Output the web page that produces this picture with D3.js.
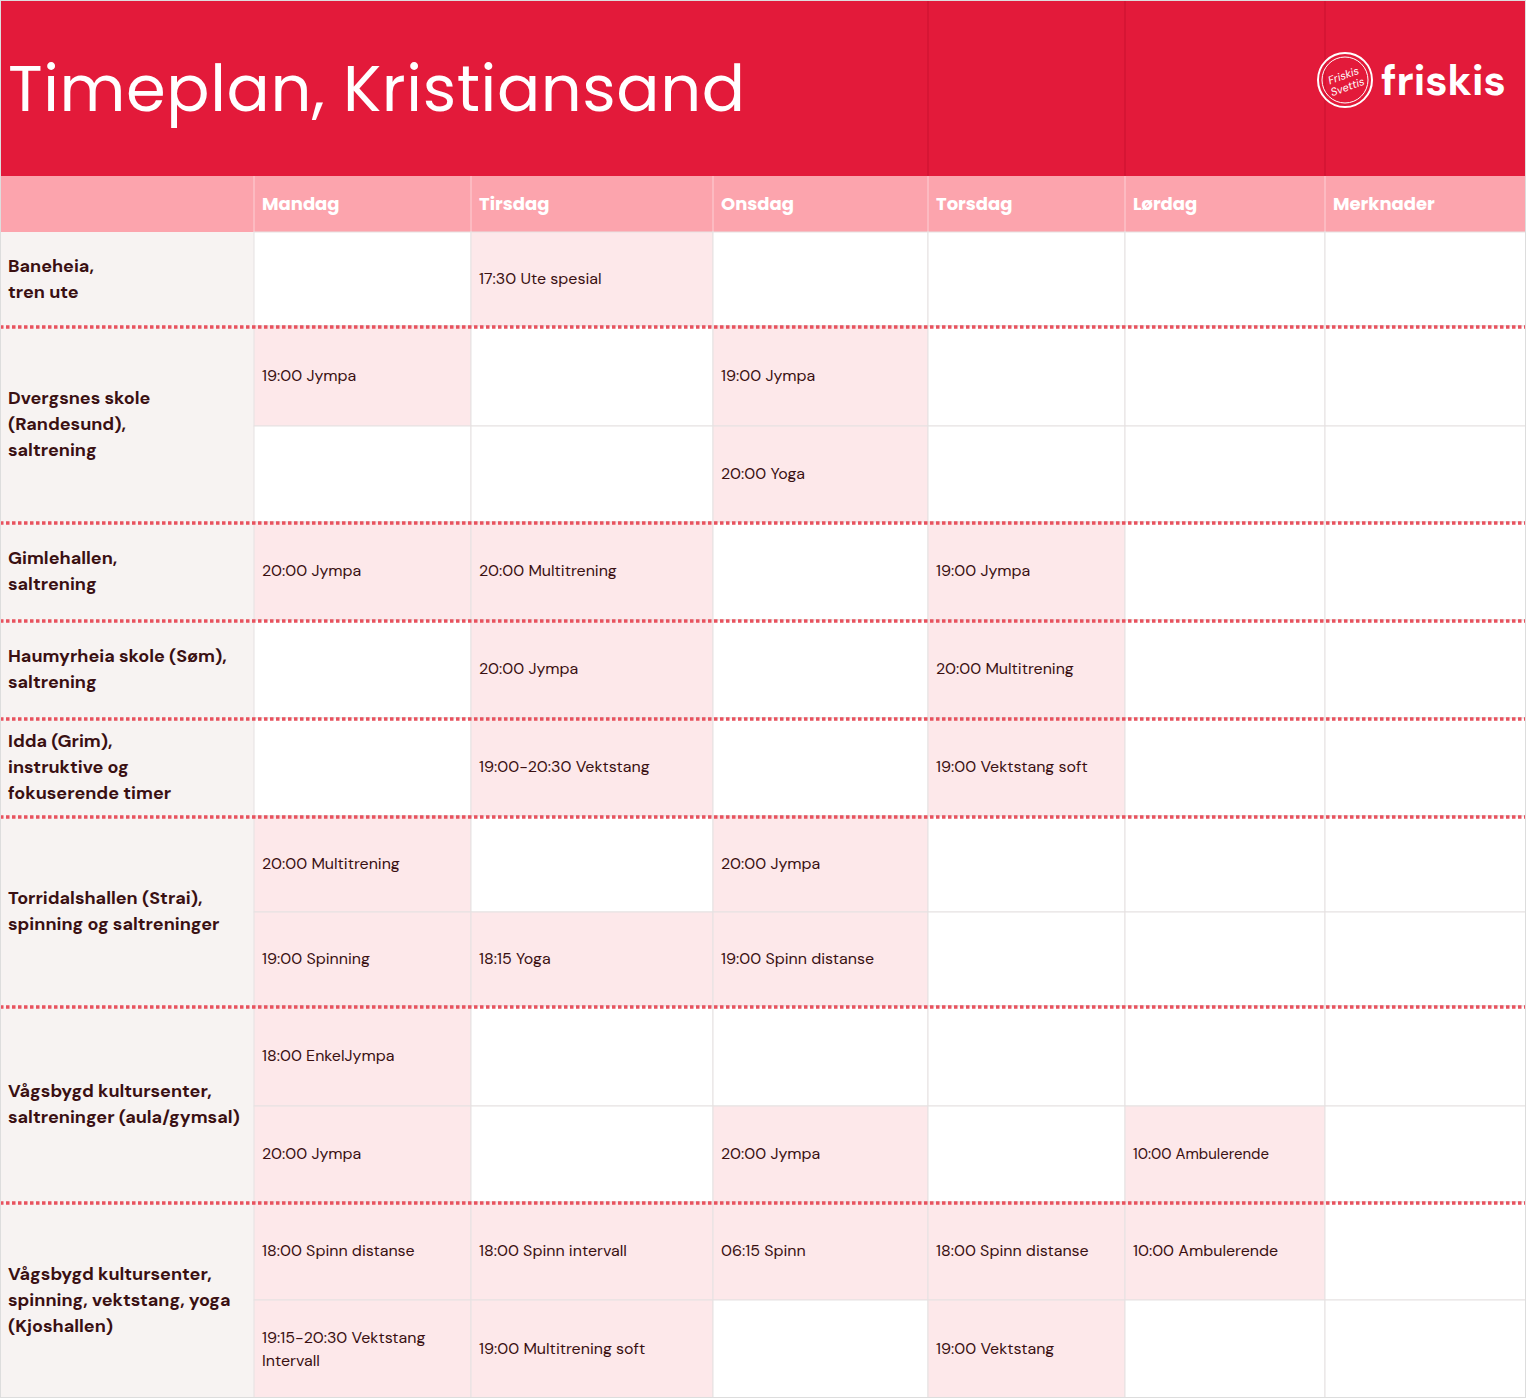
<!DOCTYPE html>
<html><head><meta charset="utf-8">
<script src="https://cdn.jsdelivr.net/npm/d3@7"></script>
<style>body{margin:0;background:#fff}svg{display:block}</style>
</head><body><svg id="c" width="1526" height="1398"></svg>
<script>
const title = "Timeplan, Kristiansand";
const days = ["Mandag","Tirsdag","Onsdag","Torsdag","Lørdag","Merknader"];
const colEdges = [0,254,471,713,928,1125,1325,1526];
const locations = [
 "Baneheia,\ntren ute",
 "Dvergsnes skole\n(Randesund),\nsaltrening",
 "Gimlehallen,\nsaltrening",
 "Haumyrheia skole (Søm),\nsaltrening",
 "Idda (Grim),\ninstruktive og\nfokuserende timer",
 "Torridalshallen (Strai),\nspinning og saltreninger",
 "Vågsbygd kultursenter,\nsaltreninger (aula/gymsal)",
 "Vågsbygd kultursenter,\nspinning, vektstang, yoga\n(Kjoshallen)"
];
const sessions = [
 [["","17:30 Ute spesial","","","",""]],
 [["19:00 Jympa","","19:00 Jympa","","",""],["","","20:00 Yoga","","",""]],
 [["20:00 Jympa","20:00 Multitrening","","19:00 Jympa","",""]],
 [["","20:00 Jympa","","20:00 Multitrening","",""]],
 [["","19:00-20:30 Vektstang","","19:00 Vektstang soft","",""]],
 [["20:00 Multitrening","","20:00 Jympa","","",""],["19:00 Spinning","18:15 Yoga","19:00 Spinn distanse","","",""]],
 [["18:00 EnkelJympa","","","","",""],["20:00 Jympa","","20:00 Jympa","","10:00 Ambulerende",""]],
 [["18:00 Spinn distanse","18:00 Spinn intervall","06:15 Spinn","18:00 Spinn distanse","10:00 Ambulerende",""],["19:15-20:30 Vektstang\nIntervall","19:00 Multitrening soft","","19:00 Vektstang","",""]]
];
const rowEdges = [232,326,426,522,620,718,816,912,1006,1106,1202,1300,1398];

const svg = d3.select("#c");
const font = "'DM Sans','Inter','Open Sans',sans-serif";
const x = d3.scaleOrdinal().domain(["label",...days]).range(colEdges);
const wOf = i => colEdges[i+1]-colEdges[i];
const y = d3.scaleOrdinal().domain(d3.range(rowEdges.length)).range(rowEdges);

svg.append("rect").attr("width",1526).attr("height",176).attr("fill","#e31a3a");
[928,1125,1325].forEach(v=>svg.append("line").attr("x1",v).attr("x2",v).attr("y1",0).attr("y2",176).attr("stroke","#d21533").attr("stroke-width",1.5));
svg.append("text").attr("x",8).attr("y",111).attr("fill","#fff").attr("font-family","Poppins,'Open Sans',sans-serif").attr("font-size",64).attr("font-weight",400).attr("textLength",737).text(title);
const lg = svg.append("g").attr("transform","translate(1345,80)");
lg.append("circle").attr("r",27).attr("fill","none").attr("stroke","#fff").attr("stroke-width",2);
lg.append("circle").attr("r",23).attr("fill","none").attr("stroke","#fff").attr("stroke-width",1);
lg.append("text").attr("text-anchor","middle").attr("y",-1).attr("fill","#fff").attr("font-size",11).attr("font-style","italic").attr("font-family",font).attr("transform","rotate(-20)").text("Friskis");
lg.append("text").attr("text-anchor","middle").attr("y",11).attr("fill","#fff").attr("font-size",11).attr("font-style","italic").attr("font-family",font).attr("transform","rotate(-20)").text("Svettis");
svg.append("text").attr("x",1381).attr("y",95).attr("fill","#fff").attr("font-family",font).attr("font-size",42).attr("font-weight",700).text("friskis");

svg.append("rect").attr("y",176).attr("width",1526).attr("height",56).attr("fill","#fca4ad");
days.forEach((d,i)=>{
  svg.append("line").attr("x1",x(d)).attr("x2",x(d)).attr("y1",176).attr("y2",232).attr("stroke","#fdd0d5").attr("stroke-width",1);
  svg.append("text").attr("x",x(d)+8).attr("y",210).attr("fill","#fff").attr("font-family","Poppins,'Open Sans',sans-serif").attr("font-weight",700).attr("font-size",18).text(d);
});

let r = 0;
const groupEdges=[];
locations.forEach((loc,li)=>{
  const subs = sessions[li];
  const y0 = y(r), y1 = y(r+subs.length);
  svg.append("rect").attr("x",0).attr("y",y0).attr("width",254).attr("height",y1-y0).attr("fill","#f7f3f2");
  const lines = loc.split("\n");
  const t = svg.append("text").attr("x",8).attr("font-family",font).attr("font-weight",700).attr("font-size",18).attr("fill","#3a1012");
  const mid=(y0+y1)/2, lh=26;
  lines.forEach((l,k)=>t.append("tspan").attr("x",8).attr("y",mid+(k-(lines.length-1)/2)*lh+6).text(l));
  subs.forEach((row,si)=>{
    const sy0=y(r+si), sy1=y(r+si+1);
    row.forEach((c,ci)=>{
      const cx=colEdges[ci+1];
      svg.append("rect").attr("x",cx).attr("y",sy0).attr("width",wOf(ci+1)).attr("height",sy1-sy0)
        .attr("fill",c?"#fde8ea":"#fff").attr("stroke","#e6e2e2").attr("stroke-width",1);
      if(c){
        const ls=c.split("\n");
        const tt=svg.append("text").attr("font-family",font).attr("font-size",ci==4&&li==6?15:16).attr("fill","#3a1012");
        const m=(sy0+sy1)/2;
        ls.forEach((l,k)=>tt.append("tspan").attr("x",cx+8).attr("y",m+(k-(ls.length-1)/2)*23+5).text(l));
      }
    });
  });
  r+=subs.length;
  if(li<locations.length-1) groupEdges.push(y1);
});
svg.selectAll(".dash").data(groupEdges).join("line").attr("x1",0).attr("x2",1526).attr("y1",d=>d+1).attr("y2",d=>d+1)
  .attr("stroke","#e8525e").attr("stroke-width",3.5).attr("stroke-dasharray","3.5,2.5");
svg.append("rect").attr("x",0.5).attr("y",0.5).attr("width",1525).attr("height",1397).attr("fill","none").attr("stroke","#ddd").attr("stroke-width",1);
</script></body></html>
